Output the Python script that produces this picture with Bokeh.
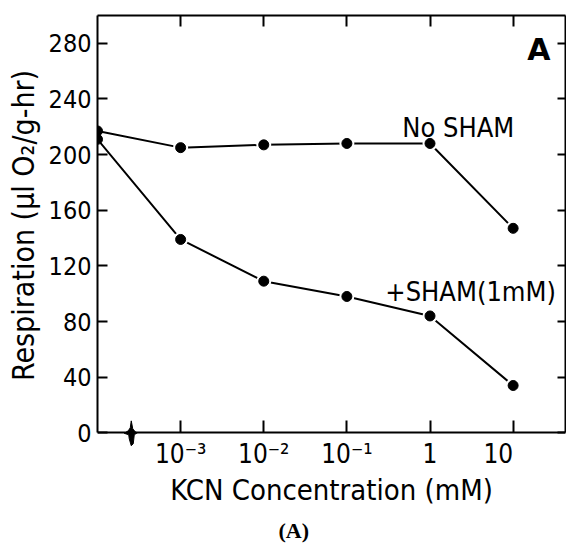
from bokeh.plotting import figure
from bokeh.models import (Range1d, FixedTicker, LinearAxis, Title, Label,
                          ColumnDataSource)
from bokeh.embed import file_html
from bokeh.resources import INLINE

# log10 of KCN concentration (mM); the control (no KCN) is drawn at the axis break
log_conc = [-4, -3, -2, -1, 0, 1]
no_sham = [217, 205, 207, 208, 208, 147]
plus_sham = [211, 139, 109, 98, 84, 34]

y_ticks = [0, 40, 80, 120, 160, 200, 240, 280]
x_ticks = [-3, -2, -1, 0, 1]
x_tick_labels = ["10⁻³", "10⁻²", "10⁻¹", "1", "10\u00a0\u00a0\u00a0\u00a0"]

FONT = "DejaVu Sans Condensed"
Y_TOP = 300
# the frame reaches below y=0 so the axis-break mark is not clipped;
# the concentration axis itself is pinned at y=0
Y_BOTTOM = -57.3

src = ColumnDataSource(dict(x=log_conc, no_sham=no_sham, plus_sham=plus_sham))
treated = ColumnDataSource(dict(x=log_conc[1:], no_sham=no_sham[1:], plus_sham=plus_sham[1:]))

p = figure(width=566, height=545, output_backend="svg", toolbar_location=None,
           x_range=Range1d(-4, 1.63), y_range=Range1d(Y_BOTTOM, Y_TOP),
           min_border_left=97, min_border_right=1, min_border_top=15,
           min_border_bottom=30)
p.grid.visible = False
p.outline_line_color = None
p.background_fill_color = "white"
p.border_fill_color = "white"

# left axis; the label is padded at its start so it sits centred on the 0-300 span
ya = p.yaxis[0]
ya.bounds = (0, Y_TOP)
ya.ticker = FixedTicker(ticks=y_ticks)
ya.major_tick_in = 10
ya.major_tick_out = 0
ya.minor_tick_line_color = None
ya.axis_line_width = 2
ya.major_tick_line_width = 2
ya.major_label_text_font = FONT
ya.major_label_text_font_size = "25px"
ya.major_label_text_color = "black"
ya.major_label_standoff = 6
ya.axis_label = "\u00a0" * 9 + "Respiration (μl O₂/g-hr)"
ya.axis_label_text_font = FONT
ya.axis_label_text_font_size = "30px"
ya.axis_label_text_font_style = "normal"
ya.axis_label_text_color = "black"
ya.axis_label_standoff = 5

# bottom axis, pinned at zero respiration
xa = p.xaxis[0]
xa.fixed_location = 0
xa.ticker = FixedTicker(ticks=x_ticks)
xa.major_label_overrides = {t: s for t, s in zip(x_ticks, x_tick_labels)}
xa.major_tick_in = 12
xa.major_tick_out = 0
xa.minor_tick_line_color = None
xa.axis_line_width = 2
xa.major_tick_line_width = 2
xa.major_label_text_font = FONT
xa.major_label_text_font_size = "26px"
xa.major_label_text_color = "black"
xa.major_label_standoff = 6
xa.axis_label = "KCN Concentration (mM)"
xa.axis_label_text_font = FONT
xa.axis_label_text_font_size = "29px"
xa.axis_label_text_font_style = "normal"
xa.axis_label_text_color = "black"
xa.axis_label_standoff = 1

# frame ticks on top and right (no labels)
top = LinearAxis(ticker=FixedTicker(ticks=x_ticks), major_tick_in=11, major_tick_out=0,
                 major_label_text_font_size="1px", major_label_text_color=None,
                 major_label_standoff=0, minor_tick_line_color=None,
                 axis_line_width=2, major_tick_line_width=2)
p.add_layout(top, "above")
right = LinearAxis(ticker=FixedTicker(ticks=y_ticks), major_tick_in=8, major_tick_out=0,
                   major_label_text_font_size="1px", major_label_text_color=None,
                   major_label_standoff=0, minor_tick_line_color=None, bounds=(0, Y_TOP),
                   axis_line_width=2, major_tick_line_width=2)
p.add_layout(right, "right")

# series
for col in ["no_sham", "plus_sham"]:
    p.line("x", col, source=src, line_color="black", line_width=2)
    p.scatter("x", col, source=treated, size=15, fill_color="white", line_color=None)
    p.scatter("x", col, source=src, size=10, fill_color="black", line_color="black")

# axis break mark on the concentration axis (outline given in pixels)
break_x = -3.6
px_to_x, px_to_y = 1 / 83.1, 40 / 55.86
outline_px = [(0.5, -12), (2, -4), (4.5, -1), (6.5, 0), (3.5, 2), (2.5, 11), (0.5, 13),
              (-1.5, 6), (-2, 2), (-6.5, 0.5), (-2.5, -2), (-0.5, -5)]
p.patch([break_x + dx * px_to_x for dx, dy in outline_px],
        [-dy * px_to_y for dx, dy in outline_px],
        fill_color="black", line_color="black", line_width=1)

# series names and panel letter
p.add_layout(Label(x=-0.333, y=219.8, text="No SHAM", text_font=FONT,
                   text_font_size="27px", text_color="black", text_baseline="alphabetic"))
p.add_layout(Label(x=-0.538, y=101.7, text="+SHAM(1mM)", text_font=FONT,
                   text_font_size="27px", text_color="black", text_baseline="alphabetic"))
p.add_layout(Label(x=1.171, y=275.7, text="A", text_font="DejaVu Sans",
                   text_font_style="bold", text_font_size="30px", text_color="black",
                   text_baseline="alphabetic"))

p.add_layout(Title(text="(A)", align="left", offset=181, text_font="Liberation Serif",
                   text_font_style="bold", text_font_size="22px", text_color="black",
                   standoff=6), "below")

open("out.html", "w").write(file_html(p, INLINE))
